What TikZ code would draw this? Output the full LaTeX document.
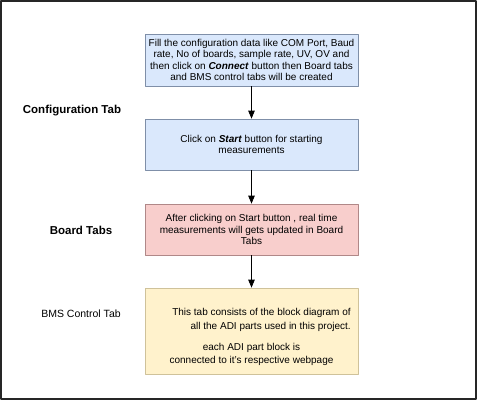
\documentclass[tikz,border=0pt]{standalone}
\usepackage{fontspec}
\setmainfont{Liberation Sans}
\usetikzlibrary{arrows}
\definecolor{cfgfill}{HTML}{DAE8FC}
\definecolor{cfgline}{HTML}{7F8FA8}
\definecolor{brdfill}{HTML}{F8CECC}
\definecolor{brdline}{HTML}{B08888}
\definecolor{bmsfill}{HTML}{FFF2CC}
\definecolor{bmsline}{HTML}{CFC29A}
\tikzset{
  stepbox/.style={draw,line width=0.8pt,minimum width=213pt,minimum height=51pt,inner sep=0pt,align=center,font=\fontsize{10}{11.2}\selectfont},
  tablabel/.style={font=\fontsize{11.5}{13}\selectfont\bfseries},
}
\begin{document}
\begin{tikzpicture}[line cap=round,line join=round,>=triangle 45,x=1pt,y=-1pt]
\useasboundingbox (0,0) rectangle (477,400);
\draw [line width=1.5pt,color=black!85] (1,1) rectangle (476,399);
\node [stepbox,fill=cfgfill,draw=cfgline,minimum height=52pt] (cfg) at (251.5,60) {Fill the configuration data like COM Port, Baud\\ rate, No of boards, sample rate, UV, OV and\\ then click on \textbf{\textit{Connect}} button then Board tabs\\ and BMS control tabs will be created};
\node [stepbox,fill=cfgfill,draw=cfgline] (start) at (251.5,144.5) {Click on \textbf{\textit{Start}} button for starting\\ measurements};
\node [stepbox,fill=brdfill,draw=brdline] (board) at (251.5,229.5) {After clicking on Start button , real time\\ measurements will gets updated in Board\\ Tabs};
\node [stepbox,fill=bmsfill,draw=bmsline,minimum height=86pt] (bms) at (251.5,331) {};
\node [font=\fontsize{10}{13.5}\selectfont,align=center] (bmstext) at (251.5,336) {\hspace*{20pt}\begin{tabular}{@{}r@{}}This tab consists of the block diagram of\\ all the ADI parts used in this project.\end{tabular}\\[9pt] each ADI part block is\\ connected to it's respective webpage};
\draw [->,line width=0.8pt] (cfg) -- (start);
\draw [->,line width=0.8pt] (start) -- (board);
\draw [->,line width=0.8pt] (board) -- (bms);
\node [tablabel] (cfgtab) at (72,111) {Configuration Tab};
\node [tablabel] (brdtab) at (81,230) {Board Tabs};
\node [font=\fontsize{10.5}{12}\selectfont] (bmstab) at (81,314) {BMS Control Tab};
\end{tikzpicture}
\end{document}
